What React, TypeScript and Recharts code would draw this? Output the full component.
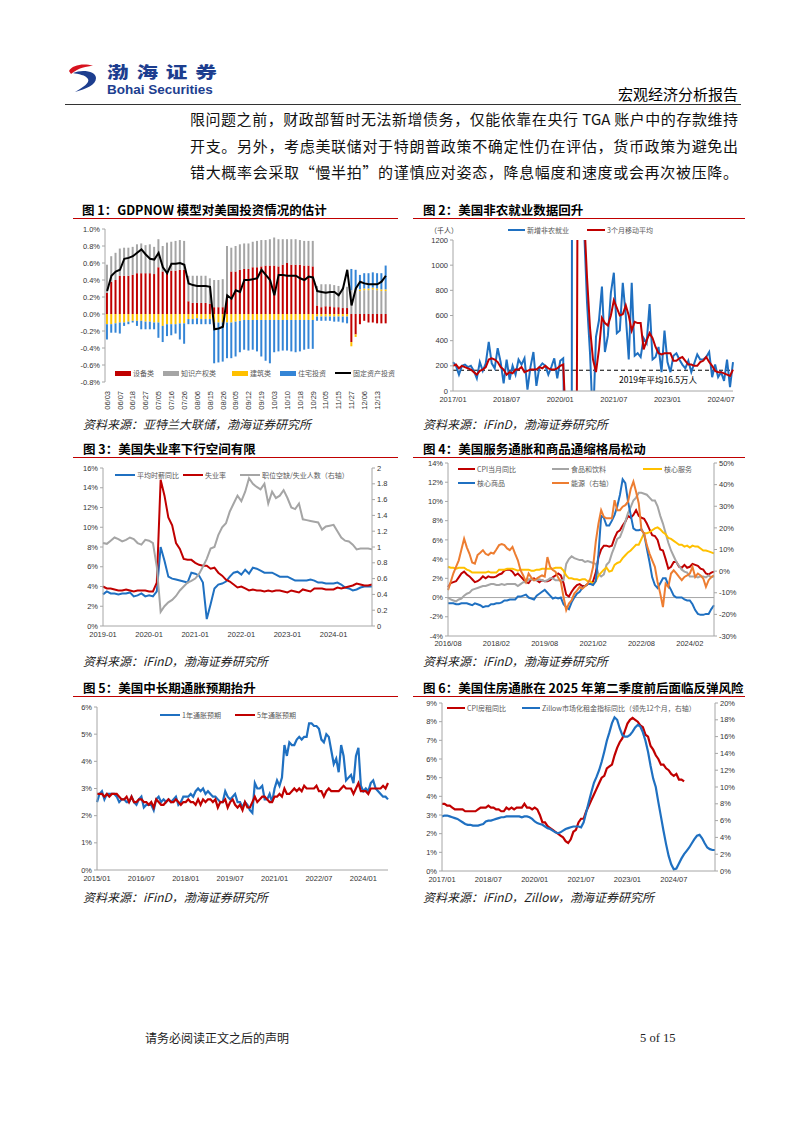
import React from 'react'
import { ComposedChart, LineChart, Bar, Line, XAxis, YAxis, ReferenceLine } from 'recharts'

const CJK = "'Noto Sans CJK SC', sans-serif"
const NUM = "'Liberation Sans', Arial, sans-serif"
const RED = '#C00000'
const BLUE = '#1F70C1'
const GRAY = '#A5A5A5'
const YELLOW = '#FFC000'
const ORANGE = '#ED7D31'
const BAR_BLUE = '#3485D6'
const AXIS = '#A6A6A6'
const tickStyle = { fontSize: 7.5, fill: '#333', fontFamily: NUM }

// month labels like 2017/01
function monthLabels(y: number, m: number, n: number, sep: string) {
  const out: string[] = []
  for (let k = 0; k < n; k++) {
    const yy = y + Math.floor((m - 1 + k) / 12)
    const mm = ((m - 1 + k) % 12) + 1
    out.push(`${yy}${sep}${String(mm).padStart(2, '0')}`)
  }
  return out
}

// ---------- page text ----------
const bodyLines = [
  '限问题之前，财政部暂时无法新增债务，仅能依靠在央行 TGA 账户中的存款维持',
  '开支。另外，考虑美联储对于特朗普政策不确定性仍在评估，货币政策为避免出',
  '错大概率会采取“慢半拍”的谨慎应对姿态，降息幅度和速度或会再次被压降。',
]

// ---------- 图1 GDPNOW ----------
const gdpTickLabels = ['06/03', '06/07', '06/18', '06/27', '07/05', '07/16', '07/26', '08/06', '08/15', '08/26', '09/05',
  '09/12', '09/19', '10/03', '10/10', '10/18', '10/29', '11/05', '11/15', '11/27', '12/06', '12/13']
const equipment = [0.25, 0.38, 0.40, 0.45, 0.45, 0.45, 0.46, 0.48, 0.48, 0.48, 0.48, 0.47, 0.55, 0.50, 0.50, 0.51, 0.51, 0.52, 0.52,
  0.15, 0.13, 0.13, 0.13, 0.13, 0.12,
  0.08, 0.08, 0.08,
  0.22, 0.50, 0.50, 0.52, 0.53, 0.53, 0.55, 0.55, 0.56, 0.57, 0.57, 0.57, 0.56, 0.58, 0.60, 0.58, 0.58, 0.58, 0.57, 0.57, 0.56,
  0.10, 0.08, 0.09, 0.09, 0.08, 0.08, 0.07, 0.07,
  -0.33, -0.24, -0.12, -0.08, -0.10, -0.10, -0.11, -0.11, -0.11]
const ipProducts = [0.33, 0.30, 0.32, 0.32, 0.33, 0.33, 0.33, 0.34, 0.35, 0.33, 0.34, 0.32, 0.33, 0.30, 0.34, 0.34, 0.35, 0.35, 0.34,
  0.30, 0.32, 0.32, 0.32, 0.32, 0.30,
  0.32, 0.32, 0.33,
  0.58, 0.28, 0.30, 0.30, 0.30, 0.30, 0.30, 0.31, 0.31, 0.30, 0.31, 0.33, 0.32, 0.30, 0.28, 0.30, 0.30, 0.29, 0.29, 0.29, 0.30,
  0.23, 0.27, 0.26, 0.26, 0.26, 0.25, 0.24, 0.25,
  0.28, 0.28, 0.27, 0.28, 0.28, 0.29, 0.28, 0.27, 0.27]
const structures = [-0.12, -0.12, -0.11, -0.10, -0.10, -0.09, -0.08, -0.08, -0.08, -0.09, -0.09, -0.10, -0.10, -0.14, -0.12, -0.12, -0.12, -0.11, -0.11,
  -0.06, -0.06, -0.05, -0.06, -0.06, -0.06,
  -0.10, -0.10, -0.10,
  -0.10, -0.10, -0.09, -0.08, -0.07, -0.07, -0.07, -0.07, -0.07, -0.07, -0.07, -0.07, -0.07, -0.07, -0.07, -0.07, -0.07, -0.07, -0.07, -0.07, -0.07,
  -0.03, -0.03, -0.03, -0.03, -0.03, -0.03, -0.03, -0.03,
  -0.05, -0.03, 0.02, 0.02, 0.02, 0.02, 0.02, 0.02, 0.02]
const residential = [-0.18, -0.10, -0.11, -0.13, -0.04, -0.03, -0.02, -0.06, -0.10, -0.09, -0.09, -0.08, -0.18, -0.19, -0.14, -0.13, -0.11, -0.19, -0.24,
  -0.06, -0.06, -0.07, -0.06, -0.06, -0.06,
  -0.48, -0.47, -0.46,
  -0.42, -0.42, -0.41, -0.37, -0.35, -0.36, -0.35, -0.37, -0.43, -0.48, -0.51, -0.38, -0.37, -0.36, -0.36, -0.37, -0.38, -0.37, -0.35, -0.34, -0.34,
  -0.05, -0.05, -0.05, -0.05, -0.06, -0.06, -0.07, -0.08,
  0.25, 0.24, 0.17, 0.18, 0.18, 0.18, 0.18, 0.19, 0.28]
const fixedInvest = [0.27, 0.45, 0.50, 0.52, 0.65, 0.66, 0.68, 0.72, 0.76, 0.70, 0.65, 0.64, 0.72, 0.55, 0.48, 0.59, 0.59, 0.60, 0.58,
  0.36, 0.34, 0.33, 0.33, 0.33, 0.32,
  -0.18, -0.17, -0.15,
  0.22, 0.18, 0.28, 0.26, 0.40, 0.40, 0.41, 0.42, 0.52, 0.46, 0.40, 0.22, 0.46, 0.46, 0.45, 0.45, 0.45, 0.42, 0.40, 0.44, 0.43,
  0.27, 0.26, 0.25, 0.26, 0.26, 0.22, 0.30, 0.52,
  0.10, 0.30, 0.38, 0.36, 0.35, 0.35, 0.35, 0.38, 0.45]

// ---------- 图2 非农 ----------
const payrolls = [
  230, 200, 130, 200, 210, 190, 200, 160, 100, 230, 160, 220,
  390, 220, 180, 340, 230, 60, 250, 90, 200, 130, 250, 210,
  260, 10, 190, 310, 40, 190, 220, 200, 130, 190, 260, 100,
  240, 260, -1400, -20500, 2800, 4600, 1700, 1600, 1300, 700, 300, -270,
  430, 560, 830, 310, 440, 780, 940, 460, 480, 860, 600, 250,
  860, 280, 300, 270, 420, 380, 690, 250, 270, 350, 150, 480,
  230, 150, 280, 300, 250, 210, 180, 240, 150, 220, 290, 250,
  250, 270, 310, 110, 210, 110, 150, 80, 250, 30, 230]
const payrolls3m = [
  200, 210, 180, 200, 190, 180, 170, 150, 130, 160, 170, 190,
  250, 260, 250, 230, 190, 170, 130, 150, 140, 170, 170, 190,
  150, 160, 170, 170, 170, 190, 180, 200, 180, 170, 170, 180,
  200, 210, -300, -7000, -6000, -4300, 3000, 2600, 1400, 900, 500, 250,
  150, 330, 580, 540, 520, 600, 720, 660, 600, 610, 680, 600,
  480, 550, 540, 540, 330, 400, 460, 420, 350, 300, 290, 300,
  300, 300, 240, 240, 260, 270, 240, 210, 210, 200, 200, 230,
  240, 270, 230, 200, 160, 150, 150, 140, 130, 120, 170]
const avg2019 = 165

// ---------- 图3 劳动力 ----------
const hourlyEarnings = [
  3.2, 3.5, 3.3, 3.3, 3.2, 3.3, 3.3, 3.4, 3.0, 3.1, 3.3, 3.0,
  3.1, 3.0, 3.5, 8.0, 6.6, 5.0, 4.8, 4.7, 4.6, 4.5, 4.4, 5.4,
  5.3, 5.1, 4.4, 0.7, 2.2, 3.8, 4.2, 4.3, 4.5, 5.0, 5.4, 5.5,
  5.2, 5.7, 5.3, 5.9, 5.8, 5.6, 5.4, 5.4, 5.4, 5.2, 5.0, 5.0,
  5.0, 4.8, 4.6, 4.6, 4.6, 4.6, 4.7, 4.6, 4.4, 4.4, 4.3, 4.3,
  4.3, 4.4, 4.2, 3.9, 3.8, 3.6, 3.7, 3.9, 4.0, 4.0, 4.0]
const unemployment = [
  4.0, 3.8, 3.8, 3.7, 3.6, 3.6, 3.7, 3.6, 3.5, 3.6, 3.6, 3.6,
  3.5, 3.5, 4.4, 14.8, 13.2, 11.0, 10.2, 8.4, 7.8, 6.8, 6.7, 6.7,
  6.4, 6.2, 6.1, 6.1, 5.8, 5.9, 5.4, 5.1, 4.7, 4.5, 4.2, 3.9,
  4.0, 3.8, 3.6, 3.7, 3.6, 3.6, 3.5, 3.6, 3.5, 3.6, 3.6, 3.5,
  3.4, 3.6, 3.5, 3.4, 3.7, 3.6, 3.5, 3.8, 3.8, 3.8, 3.7, 3.7,
  3.7, 3.9, 3.8, 3.9, 4.0, 4.1, 4.3, 4.2, 4.1, 4.1, 4.2]
const vacancyRatio = [
  1.05, 1.04, 1.08, 1.12, 1.10, 1.07, 1.09, 1.12, 1.10, 1.05, 1.03, 1.09,
  1.08, 1.05, 0.75, 0.18, 0.25, 0.30, 0.33, 0.38, 0.45, 0.50, 0.55, 0.57,
  0.60, 0.66, 0.75, 0.85, 0.98, 1.00, 1.15, 1.25, 1.30, 1.45, 1.55, 1.65,
  1.58, 1.70, 1.87, 1.80, 1.76, 1.73, 1.80, 1.55, 1.70, 1.62, 1.65, 1.72,
  1.62, 1.50, 1.48, 1.55, 1.35, 1.34, 1.33, 1.32, 1.31, 1.22, 1.26, 1.27,
  1.28, 1.20, 1.12, 1.08, 1.07, 1.03, 0.97, 0.98, 0.98, 0.98, 0.97]

// ---------- 图4 通胀分项 ----------
const cpiAll = [1.1, 1.5, 1.6, 1.7, 2.1,
  2.5, 2.7, 2.4, 2.2, 1.9, 1.6, 1.7, 1.9, 2.2, 2.0, 2.2, 2.1,
  2.1, 2.2, 2.4, 2.5, 2.8, 2.9, 2.9, 2.7, 2.3, 2.5, 2.2, 1.9,
  1.6, 1.5, 1.9, 2.0, 1.8, 1.6, 1.8, 1.7, 1.7, 1.8, 2.1, 2.3,
  2.5, 2.3, 1.5, 0.3, 0.1, 0.6, 1.0, 1.3, 1.4, 1.2, 1.2, 1.4,
  1.4, 1.7, 2.6, 4.2, 5.0, 5.4, 5.4, 5.3, 5.4, 6.2, 6.8, 7.0,
  7.5, 7.9, 8.5, 8.3, 8.6, 9.1, 8.5, 8.3, 8.2, 7.7, 7.1, 6.5,
  6.4, 6.0, 5.0, 4.9, 4.0, 3.0, 3.2, 3.7, 3.7, 3.2, 3.1, 3.4,
  3.1, 3.2, 3.5, 3.4, 3.3, 3.0, 2.9, 2.5, 2.4, 2.6, 2.7]
const cpiFood = [0.0, -0.2, -0.3, -0.4, -0.2,
  -0.1, 0.2, 0.4, 0.5, 0.8, 0.9, 1.0, 1.1, 1.2, 1.2, 1.3, 1.4,
  1.4, 1.3, 1.3, 1.4, 1.3, 1.4, 1.4, 1.4, 1.4, 1.2, 1.4, 1.6,
  1.6, 1.9, 1.9, 1.8, 1.8, 1.9, 1.8, 1.7, 1.8, 2.0, 2.0, 1.8,
  1.8, 1.8, 1.8, 3.5, 4.0, 4.3, 4.1, 4.0, 3.9, 3.9, 3.7, 3.8,
  3.7, 3.6, 3.5, 2.4, 2.2, 2.4, 3.4, 3.7, 4.6, 5.3, 6.1, 6.3,
  7.0, 7.9, 8.8, 9.4, 10.1, 10.4, 10.9, 10.9, 10.8, 10.7, 10.4, 10.1,
  10.1, 9.5, 8.5, 7.7, 6.7, 5.7, 4.9, 4.3, 3.7, 3.3, 2.9, 2.7,
  2.6, 2.2, 2.2, 2.2, 2.1, 2.2, 2.2, 2.1, 2.3, 2.1, 2.2]
const coreServices = [3.2, 3.1, 3.1, 3.0, 3.1,
  3.1, 3.1, 2.9, 2.8, 2.6, 2.6, 2.6, 2.6, 2.6, 2.6, 2.7, 2.6,
  2.6, 2.6, 2.9, 2.9, 2.9, 3.0, 3.0, 3.0, 2.9, 2.8, 2.9, 2.9,
  2.9, 2.9, 2.8, 2.8, 2.9, 2.9, 3.0, 3.0, 3.0, 3.0, 3.0, 3.1,
  3.1, 3.1, 2.8, 2.3, 2.0, 2.0, 1.9, 1.9, 1.8, 1.9, 1.9, 1.7,
  1.7, 1.4, 1.7, 2.3, 2.6, 2.9, 3.1, 2.7, 2.8, 3.4, 3.6, 3.7,
  4.1, 4.4, 4.7, 4.9, 5.2, 5.5, 5.5, 6.1, 6.7, 6.7, 6.8, 7.0,
  7.2, 7.3, 7.1, 6.8, 6.6, 6.2, 6.1, 5.9, 5.7, 5.5, 5.5, 5.3,
  5.4, 5.2, 5.4, 5.3, 5.3, 5.1, 4.9, 4.9, 4.8, 4.7, 4.6]
const coreGoods = [-0.6, -0.6, -0.6, -0.7, -0.7,
  -0.6, -0.6, -0.6, -0.7, -0.8, -0.6, -0.7, -0.8, -1.0, -0.9, -0.9, -0.7,
  -0.7, -0.6, -0.6, -0.5, -0.3, -0.3, -0.2, -0.2, -0.2, 0.1, 0.1, 0.2,
  0.3, 0.0, -0.1, -0.2, 0.2, 0.4, 0.6, 0.8, 0.5, 0.2, -0.1, 0.0,
  -0.1, 0.0, -0.7, -1.0, -1.2, -0.5, 0.0, 0.4, 0.6, 1.0, 1.2, 1.4,
  1.4, 1.3, 1.7, 4.5, 8.5, 8.3, 7.5, 7.5, 8.0, 8.6, 9.5, 10.7,
  12.3, 11.9, 10.0, 8.6, 7.2, 7.0, 7.0, 7.1, 6.6, 5.1, 3.7, 2.1,
  1.3, 1.0, 1.5, 2.0, 2.0, 1.3, 0.8, 0.2, 0.0, 0.0, 0.0, -0.2,
  -0.3, -0.3, -0.7, -1.3, -1.7, -1.8, -1.8, -1.7, -1.7, -1.2, -0.8]
const energy = [-8.8, -5, -1, 2, 5, 10, 15, 11, 8, 4,
  3.5, 7.4, 8.5, 9.7, 8, 7.4, 8.5, 8.1, 10, 12,
  12.5, 12, 10.5, 9.7, 11.2, 8, 5, 0.4, -2, -5,
  -1.1, -3, -4.2, -3.5, -2.7, -2, -2.5, 6.5, 2, 0.5,
  -0.3, -3, -5, -12, -18, -15, -13.5, -10.4, -9, -7.3,
  -8.1, -7, -5.8, -3.4, 2, 13.6, 22, 28.2, 25.1, 24.4,
  24.4, 24.4, 32.8, 28.2, 28.2, 29.8, 30.5, 32.1, 38, 41.4,
  36.7, 31.3, 19, 17.4, 12, 8.1, 5, 2, -5, -10.4,
  -16.6, -5.8, -7.3, -1.1, 0.4, -1, -2.7, -4.2, -2.7, -2,
  -1.1, 2, -2.7, -1.1, -2, -3.4, -7.3, -4.2, -2.7, -2]

// ---------- 图5 通胀预期 ----------
const infl1y = [
  2.5, 2.8, 2.9, 2.6, 2.8, 2.8, 2.8, 2.8, 2.7, 2.5, 2.6, 2.6,
  2.5, 2.5, 2.7, 2.5, 2.4, 2.6, 2.7, 2.3, 2.4, 2.4, 2.4, 2.2,
  2.6, 2.7, 2.5, 2.6, 2.5, 2.6, 2.5, 2.6, 2.7, 2.4, 2.5, 2.7,
  2.7, 2.7, 2.8, 2.7, 2.9, 3.0, 2.9, 3.0, 2.8, 2.9, 2.8, 2.7,
  2.7, 2.6, 2.5, 2.5, 2.9, 2.7, 2.6, 2.7, 2.8, 2.5, 2.5, 2.3,
  2.5, 2.4, 2.2, 2.1, 3.2, 3.0, 3.0, 3.1, 2.6, 2.6, 2.8, 2.5,
  3.0, 3.3, 3.1, 3.4, 4.6, 4.2, 4.7, 4.6, 4.6, 4.8, 4.9, 4.8,
  4.9, 4.9, 5.4, 5.4, 5.3, 5.3, 5.2, 4.8, 4.7, 5.0, 4.9, 4.4,
  3.9, 4.1, 3.6, 4.6, 4.2, 3.3, 3.4, 3.5, 3.2, 4.2, 4.5, 3.1,
  2.9, 3.0, 2.9, 3.2, 3.3, 3.0, 2.9, 2.8, 2.7, 2.7, 2.6]
const infl5y = [
  2.8, 2.8, 2.8, 2.7, 2.8, 2.7, 2.8, 2.8, 2.8, 2.7, 2.6, 2.6,
  2.7, 2.5, 2.7, 2.5, 2.5, 2.6, 2.6, 2.5, 2.5, 2.4, 2.5, 2.3,
  2.6, 2.5, 2.4, 2.4, 2.5, 2.6, 2.5, 2.5, 2.6, 2.5, 2.4, 2.5,
  2.5, 2.6, 2.5, 2.5, 2.4, 2.6, 2.4, 2.6, 2.5, 2.6, 2.6, 2.5,
  2.6, 2.3, 2.5, 2.5, 2.6, 2.3, 2.5, 2.6, 2.4, 2.3, 2.4, 2.2,
  2.5, 2.3, 2.3, 2.5, 2.7, 2.5, 2.6, 2.7, 2.7, 2.6, 2.5, 2.5,
  2.7, 2.7, 2.8, 2.7, 3.0, 2.8, 2.8, 2.9, 3.0, 2.9, 3.0, 2.9,
  3.1, 3.0, 3.0, 3.0, 3.0, 3.1, 2.9, 2.9, 2.7, 2.9, 3.0, 2.9,
  2.9, 2.9, 2.9, 3.0, 3.1, 3.0, 3.0, 3.0, 2.8, 3.0, 3.2, 2.9,
  2.9, 2.9, 2.8, 3.0, 3.0, 3.0, 3.0, 3.0, 3.1, 3.0, 3.2]

// ---------- 图6 住房通胀 ----------
const cpiShelter = [
  3.6, 3.6, 3.5, 3.5, 3.4, 3.3, 3.3, 3.3, 3.3, 3.2, 3.2, 3.2,
  3.2, 3.2, 3.3, 3.4, 3.4, 3.4, 3.5, 3.4, 3.4, 3.3, 3.3, 3.2,
  3.2, 3.4, 3.3, 3.4, 3.3, 3.4, 3.4, 3.4, 3.6, 3.4, 3.4, 3.3,
  3.4, 3.3, 3.0, 2.6, 2.6, 2.4, 2.3, 2.2, 2.1, 2.0, 1.9, 1.8,
  1.6, 1.5, 1.7, 2.1, 2.2, 2.6, 2.8, 2.8, 3.2, 3.5, 3.8, 4.1,
  4.4, 4.7, 5.0, 5.1, 5.5, 5.6, 5.7, 6.2, 6.6, 6.9, 7.1, 7.5,
  7.9, 8.1, 8.2, 8.1, 8.0, 7.8, 7.7, 7.3, 7.2, 6.7, 6.5, 6.2,
  6.0, 5.7, 5.7, 5.5, 5.4, 5.2, 5.1, 5.2, 4.9, 4.9, 4.8]
const zillowRent = [
  6.5, 6.6, 6.6, 6.5, 6.4, 6.3, 6.2, 6.0, 5.8, 5.6, 5.5, 5.5,
  5.4, 5.4, 5.4, 5.5, 5.6, 5.9, 6.0, 6.0, 6.1, 6.2, 6.3, 6.4,
  6.4, 6.5, 6.5, 6.5, 6.5, 6.5, 6.5, 6.4, 6.5, 6.5, 6.4, 6.2,
  5.9, 5.7, 5.6, 5.5, 5.3, 5.1, 5.0, 4.8, 4.6, 4.5, 4.6, 4.8,
  5.0, 5.1, 5.2, 5.3, 5.3, 5.3, 5.2, 5.8, 7.0, 8.2, 9.4, 10.5,
  11.2, 12.0, 13.0, 14.2, 15.5, 16.5, 17.6, 18.3, 18.0, 17.0, 16.2, 16.0,
  16.0, 16.2, 16.6, 17.1, 17.4, 17.2, 16.5, 15.5, 14.2, 12.5, 11.0, 10.0,
  8.2, 6.5, 4.8, 3.2, 1.8, 0.8, 0.2, 0.3, 0.9, 1.5, 2.0, 2.4,
  2.8, 3.3, 3.8, 4.2, 4.3, 3.9, 3.3, 2.8, 2.6, 2.5, 2.5]

// ---------- tables ----------
const gdpRows = equipment.map((v, i) => ({
  i, equip: v, ip: ipProducts[i], struct: structures[i], resid: residential[i], total: fixedInvest[i],
}))
const nfpMonths = monthLabels(2017, 1, payrolls.length, '/')
const nfpRows = payrolls.map((v, i) => ({ m: nfpMonths[i], nfp: v, ma: payrolls3m[i] }))
const laborMonths = monthLabels(2019, 1, unemployment.length, '-')
const laborRows = unemployment.map((v, i) => ({ m: laborMonths[i], ahe: hourlyEarnings[i], ur: v, vu: vacancyRatio[i] }))
const cpiMonths = monthLabels(2016, 8, cpiAll.length, '/')
const cpiRows = cpiAll.map((v, i) => ({
  m: cpiMonths[i], all: v, food: cpiFood[i], serv: coreServices[i], goods: coreGoods[i], energy: energy[i],
}))
const exMonths = monthLabels(2015, 1, infl1y.length, '/')
const exRows = infl1y.map((v, i) => ({ m: exMonths[i], y1: v, y5: infl5y[i] }))
const houseMonths = monthLabels(2017, 1, zillowRent.length, '/')
const houseRows = zillowRent.map((v, i) => ({ m: houseMonths[i], shelter: cpiShelter[i] ?? null, zillow: v }))

// ---------- small pieces ----------
type Key = { label: string; color: string; box?: boolean; x: number; y: number; w?: number }
function Keys({ items }: { items: Key[] }) {
  return (
    <>
      {items.map((k) => (
        <div
          key={k.label}
          style={{
            position: 'absolute', left: k.x, top: k.y - 6, height: 12, display: 'flex', alignItems: 'center',
            whiteSpace: 'nowrap', fontFamily: CJK, fontSize: 7, color: '#595959',
          }}
        >
          <span style={{ display: 'inline-block', width: k.w ?? 18, height: k.box ? 5 : 2.5, background: k.color, marginRight: 2 }} />
          {k.label}
        </div>
      ))}
    </>
  )
}

function Title({ x, y, lineX, lineW, text }: { x: number; y: number; lineX: number; lineW: number; text: string }) {
  return (
    <>
      <div style={{ position: 'absolute', left: x, top: y - 9, lineHeight: '18px', fontFamily: CJK, fontWeight: 700, fontSize: 12.5, color: '#000', whiteSpace: 'nowrap' }}>
        {text}
      </div>
      <div style={{ position: 'absolute', left: lineX, top: y + 8, width: lineW, height: 1, background: RED }} />
    </>
  )
}

function Source({ x, y, text }: { x: number; y: number; text: string }) {
  return (
    <div style={{ position: 'absolute', left: x, top: y - 8, lineHeight: '16px', fontFamily: CJK, fontStyle: 'italic', fontSize: 12, color: '#222', whiteSpace: 'nowrap' }}>
      {text}
    </div>
  )
}

function VTick(props: any) {
  const { x, y, payload } = props
  const label = gdpTickLabels[payload.value / 3]
  const ty = y + 1
  return (
    <text x={x} y={ty} transform={`rotate(-90 ${x} ${ty})`} textAnchor="end" dy="0.35em" fontSize={7.5} fill="#333" fontFamily={NUM}>
      {label}
    </text>
  )
}

function AvgLabel(props: any) {
  const vb = props.viewBox || { x: 0, y: 0, width: 0 }
  return (
    <text x={vb.x + vb.width - 36} y={vb.y + 10} textAnchor="end" dominantBaseline="middle" fontSize={8.5} fontFamily={CJK} fill="#000">
      2019年平均16.5万人
    </text>
  )
}

const yAxisCommon = {
  tick: tickStyle, tickSize: 3, tickLine: { stroke: AXIS }, axisLine: { stroke: AXIS }, interval: 0 as const,
}
const pct = (v: number) => `${v}%`

// ---------- charts ----------
function GdpNowChart() {
  return (
    <div style={{ position: 'absolute', left: 70, top: 222 }}>
      <ComposedChart width={330} height={195} data={gdpRows} stackOffset="sign" barCategoryGap="22%" margin={{ top: 7, right: 12, left: 0, bottom: 5 }}>
        <XAxis dataKey="i" interval={2} height={30} tickLine={false} axisLine={false} tick={<VTick />} />
        <YAxis width={35} domain={[-0.8, 1]} ticks={[-0.8, -0.6, -0.4, -0.2, 0, 0.2, 0.4, 0.6, 0.8, 1]} tickFormatter={(v: number) => `${v.toFixed(1)}%`} {...yAxisCommon} />
        <Bar dataKey="equip" stackId="g" fill={RED} isAnimationActive={false} />
        <Bar dataKey="ip" stackId="g" fill={GRAY} isAnimationActive={false} />
        <Bar dataKey="struct" stackId="g" fill={YELLOW} isAnimationActive={false} />
        <Bar dataKey="resid" stackId="g" fill={BAR_BLUE} isAnimationActive={false} />
        <Line dataKey="total" stroke="#000" strokeWidth={2} dot={false} isAnimationActive={false} />
      </ComposedChart>
    </div>
  )
}

function PayrollChart() {
  return (
    <div style={{ position: 'absolute', left: 410, top: 222 }}>
      <LineChart width={335} height={200} data={nfpRows} margin={{ top: 18, right: 12, left: 0, bottom: 9 }}>
        <XAxis dataKey="m" interval={17} height={22} tick={tickStyle} tickLine={false} tickSize={4} axisLine={{ stroke: AXIS }} />
        <YAxis width={43} domain={[0, 1200]} ticks={[0, 200, 400, 600, 800, 1000, 1200]} allowDataOverflow {...yAxisCommon} />
        <ReferenceLine y={avg2019} stroke="#000" strokeDasharray="4 3" strokeWidth={1} label={<AvgLabel />} />
        <Line dataKey="nfp" stroke={BLUE} strokeWidth={2} dot={false} isAnimationActive={false} />
        <Line dataKey="ma" stroke={RED} strokeWidth={2} dot={false} isAnimationActive={false} />
      </LineChart>
    </div>
  )
}

function LaborChart() {
  return (
    <div style={{ position: 'absolute', left: 70, top: 460 }}>
      <LineChart width={330} height={190} data={laborRows} margin={{ top: 8, right: 0, left: 0, bottom: 4 }}>
        <XAxis dataKey="m" interval={11} height={20} tick={tickStyle} tickLine={false} tickSize={4} axisLine={{ stroke: AXIS }} />
        <YAxis yAxisId="l" width={33} domain={[0, 16]} ticks={[0, 2, 4, 6, 8, 10, 12, 14, 16]} tickFormatter={pct} {...yAxisCommon} />
        <YAxis yAxisId="r" orientation="right" width={28} domain={[0, 2]} ticks={[0, 0.2, 0.4, 0.6, 0.8, 1, 1.2, 1.4, 1.6, 1.8, 2]} {...yAxisCommon} />
        <Line yAxisId="l" dataKey="ahe" stroke={BLUE} strokeWidth={2} dot={false} isAnimationActive={false} />
        <Line yAxisId="l" dataKey="ur" stroke={RED} strokeWidth={2} dot={false} isAnimationActive={false} />
        <Line yAxisId="r" dataKey="vu" stroke={GRAY} strokeWidth={2} dot={false} isAnimationActive={false} />
      </LineChart>
    </div>
  )
}

function CpiChart() {
  return (
    <div style={{ position: 'absolute', left: 410, top: 458 }}>
      <LineChart width={335} height={195} data={cpiRows} margin={{ top: 5, right: 0, left: 0, bottom: 0 }}>
        <XAxis dataKey="m" interval={17} height={17} tick={tickStyle} tickLine={false} tickSize={3} axisLine={{ stroke: AXIS }} />
        <YAxis yAxisId="l" width={38} domain={[-4, 14]} ticks={[-4, -2, 0, 2, 4, 6, 8, 10, 12, 14]} tickFormatter={pct} {...yAxisCommon} />
        <YAxis yAxisId="r" orientation="right" width={31} domain={[-30, 50]} ticks={[-30, -20, -10, 0, 10, 20, 30, 40, 50]} tickFormatter={pct} {...yAxisCommon} />
        <ReferenceLine yAxisId="l" y={0} stroke={AXIS} strokeWidth={1} />
        <Line yAxisId="l" dataKey="all" stroke={RED} strokeWidth={2} dot={false} isAnimationActive={false} />
        <Line yAxisId="l" dataKey="food" stroke={GRAY} strokeWidth={2} dot={false} isAnimationActive={false} />
        <Line yAxisId="l" dataKey="serv" stroke={YELLOW} strokeWidth={2} dot={false} isAnimationActive={false} />
        <Line yAxisId="l" dataKey="goods" stroke={BLUE} strokeWidth={2} dot={false} isAnimationActive={false} />
        <Line yAxisId="r" dataKey="energy" stroke={ORANGE} strokeWidth={2} dot={false} isAnimationActive={false} />
      </LineChart>
    </div>
  )
}

function ExpectChart() {
  return (
    <div style={{ position: 'absolute', left: 70, top: 700 }}>
      <LineChart width={330} height={195} data={exRows} margin={{ top: 7, right: 12, left: 0, bottom: 3 }}>
        <XAxis dataKey="m" interval={17} height={22} tick={tickStyle} tickLine={false} tickSize={4} axisLine={{ stroke: AXIS }} />
        <YAxis width={27} domain={[0, 6]} ticks={[0, 1, 2, 3, 4, 5, 6]} tickFormatter={pct} {...yAxisCommon} />
        <Line dataKey="y1" stroke={BLUE} strokeWidth={2.2} dot={false} isAnimationActive={false} />
        <Line dataKey="y5" stroke={RED} strokeWidth={2.2} dot={false} isAnimationActive={false} />
      </LineChart>
    </div>
  )
}

function HousingChart() {
  return (
    <div style={{ position: 'absolute', left: 410, top: 700 }}>
      <LineChart width={335} height={195} data={houseRows} margin={{ top: 3, right: 0, left: 0, bottom: 2 }}>
        <XAxis dataKey="m" interval={17} height={22} tick={tickStyle} tickLine={false} tickSize={4} axisLine={{ stroke: AXIS }} />
        <YAxis yAxisId="l" width={32} domain={[0, 9]} ticks={[0, 1, 2, 3, 4, 5, 6, 7, 8, 9]} tickFormatter={pct} {...yAxisCommon} />
        <YAxis yAxisId="r" orientation="right" width={30} domain={[0, 20]} ticks={[0, 2, 4, 6, 8, 10, 12, 14, 16, 18, 20]} tickFormatter={pct} {...yAxisCommon} />
        <Line yAxisId="l" dataKey="shelter" stroke={RED} strokeWidth={2.2} dot={false} isAnimationActive={false} />
        <Line yAxisId="r" dataKey="zillow" stroke={BLUE} strokeWidth={2.2} dot={false} isAnimationActive={false} />
      </LineChart>
    </div>
  )
}

function Header() {
  return (
    <>
      <svg style={{ position: 'absolute', left: 68, top: 63 }} width={32} height={30}>
        <path d="M1 8 C 4 2, 16 0, 25 3 C 19 3, 10 5, 3 11 Z" fill="#D7121E" />
        <path d="M5 10 C 14 6, 28 8, 28 15 C 28 22, 18 26, 7 29 C 15 24, 22 20, 20 16 C 18 12, 10 11, 5 10 Z" fill="#1D3E8F" />
      </svg>
      <div
        style={{
          position: 'absolute', left: 107, top: 63, fontFamily: CJK, fontWeight: 900, fontSize: 16, lineHeight: '17px',
          letterSpacing: 5.8, color: '#1D3E8F', whiteSpace: 'nowrap', transform: 'scaleX(1.35)', transformOrigin: 'left center',
        }}
      >
        渤海证券
      </div>
      <div style={{ position: 'absolute', left: 107, top: 83, fontFamily: NUM, fontWeight: 700, fontSize: 13.5, lineHeight: '14px', color: '#1D3E8F', whiteSpace: 'nowrap' }}>
        Bohai Securities
      </div>
      <div style={{ position: 'absolute', right: 64, top: 85, fontFamily: CJK, fontSize: 15, lineHeight: '18px', color: '#000', whiteSpace: 'nowrap' }}>
        宏观经济分析报告
      </div>
      <div style={{ position: 'absolute', left: 65, top: 104, width: 676, height: 1, background: '#333' }} />
      {bodyLines.map((t, i) => (
        <div
          key={i}
          style={{
            position: 'absolute', left: 190, top: 109 + i * 26.5, width: 548, lineHeight: '20px', fontFamily: CJK, fontSize: 15,
            color: '#111', textAlign: 'justify', textAlignLast: 'justify', whiteSpace: 'nowrap',
          }}
        >
          {t}
        </div>
      ))}
    </>
  )
}

export default function App() {
  return (
    <div style={{ position: 'absolute', left: 0, top: 0, width: 802, height: 1133, background: '#fff', overflow: 'hidden' }}>
      <Header />

      <Title x={82} y={210} lineX={73} lineW={325} text="图 1：GDPNOW 模型对美国投资情况的估计" />
      <Title x={423} y={210} lineX={413} lineW={332} text="图 2：美国非农就业数据回升" />
      <GdpNowChart />
      <Keys
        items={[
          { label: '设备类', color: RED, box: true, x: 115, y: 373, w: 16 },
          { label: '知识产权类', color: GRAY, box: true, x: 163, y: 373, w: 16 },
          { label: '建筑类', color: YELLOW, box: true, x: 232, y: 373, w: 16 },
          { label: '住宅投资', color: BAR_BLUE, box: true, x: 280, y: 373, w: 16 },
          { label: '固定资产投资', color: '#000', x: 335, y: 373, w: 16 },
        ]}
      />
      <PayrollChart />
      <div style={{ position: 'absolute', left: 430, top: 225, fontFamily: CJK, fontSize: 7, color: '#333', whiteSpace: 'nowrap' }}>（千人）</div>
      <Keys
        items={[
          { label: '新增非农就业', color: BLUE, x: 508, y: 230, w: 17 },
          { label: '3个月移动平均', color: RED, x: 587, y: 230, w: 18 },
        ]}
      />
      <Source x={83} y={424} text="资料来源：亚特兰大联储，渤海证券研究所" />
      <Source x={423} y={424} text="资料来源：iFinD，渤海证券研究所" />

      <Title x={83} y={449} lineX={73} lineW={325} text="图 3：美国失业率下行空间有限" />
      <Title x={423} y={449} lineX={413} lineW={332} text="图 4：美国服务通胀和商品通缩格局松动" />
      <LaborChart />
      <Keys
        items={[
          { label: '平均时薪同比', color: BLUE, x: 115, y: 475, w: 20 },
          { label: '失业率', color: RED, x: 183, y: 475, w: 20 },
          { label: '职位空缺/失业人数（右轴）', color: GRAY, x: 240, y: 475, w: 20 },
        ]}
      />
      <CpiChart />
      <Keys
        items={[
          { label: 'CPI当月同比', color: RED, x: 458, y: 469, w: 17 },
          { label: '食品和饮料', color: GRAY, x: 552, y: 469, w: 17 },
          { label: '核心服务', color: YELLOW, x: 643, y: 469, w: 19 },
          { label: '核心商品', color: BLUE, x: 458, y: 483, w: 17 },
          { label: '能源（右轴）', color: ORANGE, x: 552, y: 483, w: 17 },
        ]}
      />
      <Source x={83} y={661} text="资料来源：iFinD，渤海证券研究所" />
      <Source x={423} y={661} text="资料来源：iFinD，渤海证券研究所" />

      <Title x={83} y={688} lineX={73} lineW={325} text="图 5：美国中长期通胀预期抬升" />
      <Title x={423} y={688} lineX={413} lineW={332} text="图 6：美国住房通胀在 2025 年第二季度前后面临反弹风险" />
      <ExpectChart />
      <Keys
        items={[
          { label: '1年通胀预期', color: BLUE, x: 160, y: 715, w: 20 },
          { label: '5年通胀预期', color: RED, x: 235, y: 715, w: 20 },
        ]}
      />
      <HousingChart />
      <Keys
        items={[
          { label: 'CPI房租同比', color: RED, x: 447, y: 708, w: 18 },
          { label: 'Zillow市场化租金指标同比（领先12个月，右轴）', color: BLUE, x: 522, y: 708, w: 18 },
        ]}
      />
      <Source x={83} y={897} text="资料来源：iFinD，渤海证券研究所" />
      <Source x={423} y={897} text="资料来源：iFinD，Zillow，渤海证券研究所" />

      <div style={{ position: 'absolute', left: 145, top: 1030, fontFamily: CJK, fontSize: 12, lineHeight: '16px', color: '#222', whiteSpace: 'nowrap' }}>
        请务必阅读正文之后的声明
      </div>
      <div style={{ position: 'absolute', left: 640, top: 1030, fontFamily: "'Liberation Serif', serif", fontSize: 12.5, lineHeight: '16px', color: '#222', whiteSpace: 'nowrap' }}>
        5 of 15
      </div>
    </div>
  )
}
